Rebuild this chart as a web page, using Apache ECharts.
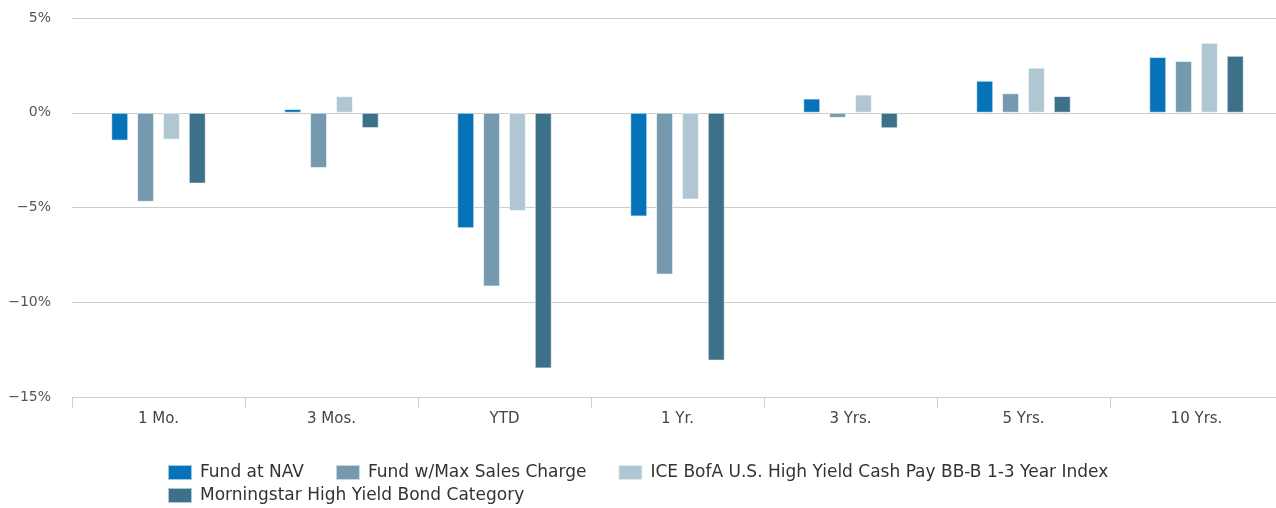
<!DOCTYPE html>
<html>
<head>
<meta charset="utf-8">
<script src="https://cdn.jsdelivr.net/npm/echarts@6/dist/echarts.min.js"></script>
<style>
html,body{margin:0;padding:0;overflow:hidden;background:#fff;}
#chart{width:1283px;height:508px;}
</style>
</head>
<body>
<div id="chart"></div>
<script>
var categories = ['1 Mo.', '3 Mos.', 'YTD', '1 Yr.', '3 Yrs.', '5 Yrs.', '10 Yrs.'];
var seriesNames = ['Fund at NAV', 'Fund w/Max Sales Charge', 'ICE BofA U.S. High Yield Cash Pay BB-B 1-3 Year Index', 'Morningstar High Yield Bond Category'];
var fundNav = [-1.47, 0.20, -6.09, -5.47, 0.75, 1.69, 2.94];
var fundMax = [-4.70, -2.92, -9.17, -8.54, -0.27, 1.03, 2.73];
var iceIndex = [-1.42, 0.88, -5.19, -4.58, 0.96, 2.38, 3.69];
var morningstar = [-3.74, -0.81, -13.49, -13.08, -0.82, 0.88, 3.01];
var yTicks = [-15, -10, -5, 0, 5];
var colors = ['#0673b8', '#7599ae', '#b0c7d3', '#3d7189'];

var values = [fundNav, fundMax, iceIndex, morningstar];
var chart = echarts.init(document.getElementById('chart'), null, {renderer: 'canvas'});
var series = values.map(function (v, i) {
  return {
    name: seriesNames[i],
    type: 'bar',
    data: v,
    barWidth: 17,
    barGap: '52%',
    itemStyle: {color: colors[i], borderColor: 'rgba(255,255,255,0.6)', borderWidth: 1},
    emphasis: {disabled: true}
  };
});
var legendText = {color: '#333', fontSize: 17, fontFamily: 'DejaVu Sans', padding: [0, 0, 0, 3]};
chart.setOption({
  animation: false,
  color: colors,
  grid: {left: 72, right: 0, top: 18, bottom: 111},
  legend: [{
    data: seriesNames.slice(0, 3),
    left: 167, top: 464, padding: 0, itemWidth: 24, itemHeight: 15, itemGap: 31,
    icon: 'rect', textStyle: legendText
  }, {
    data: seriesNames.slice(3),
    left: 167, top: 487, padding: 0, itemWidth: 24, itemHeight: 15, itemGap: 31,
    icon: 'rect', textStyle: legendText
  }],
  xAxis: {
    type: 'category',
    data: categories,
    axisLine: {onZero: false, lineStyle: {color: '#c3d2df', width: 1}},
    axisTick: {show: true, length: 11, lineStyle: {color: '#c3d2df'}},
    axisLabel: {color: '#444', fontSize: 15, fontFamily: 'DejaVu Sans', margin: 15}
  },
  yAxis: {
    type: 'value',
    min: yTicks[0], max: yTicks[yTicks.length - 1], interval: 5,
    axisLine: {show: false},
    axisTick: {show: false},
    splitLine: {lineStyle: {color: '#cccccc', width: 1}},
    axisLabel: {
      color: '#555', fontSize: 14, fontFamily: 'DejaVu Sans', margin: 21,
      formatter: function (v) { return (v < 0 ? '\u2212' + (-v) : v) + '%'; }
    }
  },
  series: series
});
</script>
</body>
</html>
